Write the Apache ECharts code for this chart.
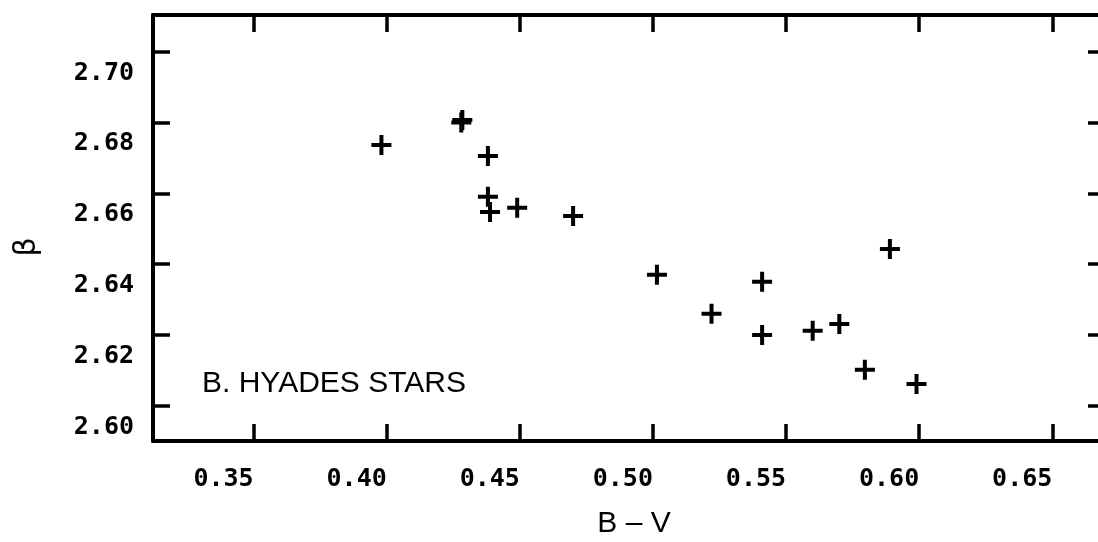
<!DOCTYPE html>
<html>
<head>
<meta charset="utf-8">
<script src="https://cdn.jsdelivr.net/npm/echarts@6/dist/echarts.min.js"></script>
<style>
  html, body { margin: 0; padding: 0; background: #fff; }
  #chart { width: 1098px; height: 542px; }
</style>
</head>
<body>
<div id="chart"></div>
<script>
// ---- data ----
const bvValues   = [0.398, 0.428, 0.4284, 0.438, 0.438, 0.4388, 0.449, 0.470, 0.5015, 0.522, 0.541, 0.541, 0.560, 0.570, 0.589, 0.5796, 0.599];
const betaValues = [2.6736, 2.6800, 2.6807, 2.6705, 2.6590, 2.6547, 2.6559, 2.6536, 2.6370, 2.6260, 2.6350, 2.6200, 2.6212, 2.6231, 2.6443, 2.6102, 2.6062];
const xTickValues = [0.35, 0.40, 0.45, 0.50, 0.55, 0.60, 0.65];
const yTickValues = [2.60, 2.62, 2.64, 2.66, 2.68, 2.70];
const xRange = [0.3122, 0.6698];
const yRange = [2.5901, 2.7103];
const xAxisTitle = 'B \u2013 V';
const yAxisTitle = '\u03b2';
const panelLabel = 'B. HYADES STARS';

const points = bvValues.map((v, i) => [v, betaValues[i]]);

const chart = echarts.init(document.getElementById('chart'), null, { renderer: 'canvas' });

const lineStyle = { color: '#000', width: 4 };
const tickStyle = { color: '#000', width: 3.5 };
const labelFont = {
  color: '#000',
  fontFamily: '"DejaVu Sans Mono", monospace',
  fontWeight: 'bold',
  fontSize: 25
};

const plusPath = 'path://M4,0h2v4h4v2h-4v4h-2v-4h-4v-2h4z';

chart.setOption({
  animation: false,
  backgroundColor: '#fff',
  grid: { left: 153, top: 15, width: 952, height: 426, containLabel: false, outerBoundsMode: 'none' },
  xAxis: [
    {
      type: 'value', position: 'bottom', min: xRange[0], max: xRange[1],
      axisLine: { show: true, onZero: false, lineStyle },
      axisTick: { show: true, inside: true, length: 17, lineStyle: tickStyle, customValues: xTickValues },
      axisLabel: Object.assign({
        show: true, align: 'right', margin: 26,
        customValues: xTickValues,
        formatter: v => v.toFixed(2)
      }, labelFont),
      splitLine: { show: false }
    },
    {
      type: 'value', position: 'top', min: xRange[0], max: xRange[1],
      axisLine: { show: true, onZero: false, lineStyle },
      axisTick: { show: true, inside: true, length: 17, lineStyle: tickStyle, customValues: xTickValues },
      axisLabel: { show: false },
      splitLine: { show: false }
    }
  ],
  yAxis: [
    {
      type: 'value', position: 'left', min: yRange[0], max: yRange[1],
      axisLine: { show: true, onZero: false, lineStyle },
      axisTick: { show: true, inside: true, length: 17, lineStyle: tickStyle, customValues: yTickValues },
      axisLabel: Object.assign({
        show: true, margin: 19, verticalAlign: 'top', padding: [9, 0, 0, 0],
        customValues: yTickValues,
        formatter: v => v.toFixed(2)
      }, labelFont),
      splitLine: { show: false }
    },
    {
      type: 'value', position: 'right', min: yRange[0], max: yRange[1],
      axisLine: { show: true, onZero: false, lineStyle },
      axisTick: { show: true, inside: true, length: 17, lineStyle: tickStyle, customValues: yTickValues },
      axisLabel: { show: false },
      splitLine: { show: false }
    }
  ],
  series: [
    {
      type: 'scatter',
      xAxisIndex: 0, yAxisIndex: 0,
      data: points,
      symbol: plusPath,
      symbolSize: 20,
      itemStyle: { color: '#000', opacity: 1 },
      emphasis: { disabled: true }
    }
  ],
  graphic: [
    {
      type: 'text', x: 202, y: 384,
      style: { text: panelLabel, font: '30px "Liberation Sans", Arial, sans-serif', fill: '#000', align: 'left', verticalAlign: 'middle' }
    },
    {
      type: 'text', x: 634, y: 524,
      style: { text: xAxisTitle, font: '30px "Liberation Sans", Arial, sans-serif', fill: '#000', align: 'center', verticalAlign: 'middle' }
    },
    {
      type: 'text', x: 27, y: 247, rotation: Math.PI / 2,
      style: { text: yAxisTitle, font: '30px "DejaVu Sans", sans-serif', fill: '#000', align: 'center', verticalAlign: 'middle' }
    }
  ]
});
</script>
</body>
</html>
